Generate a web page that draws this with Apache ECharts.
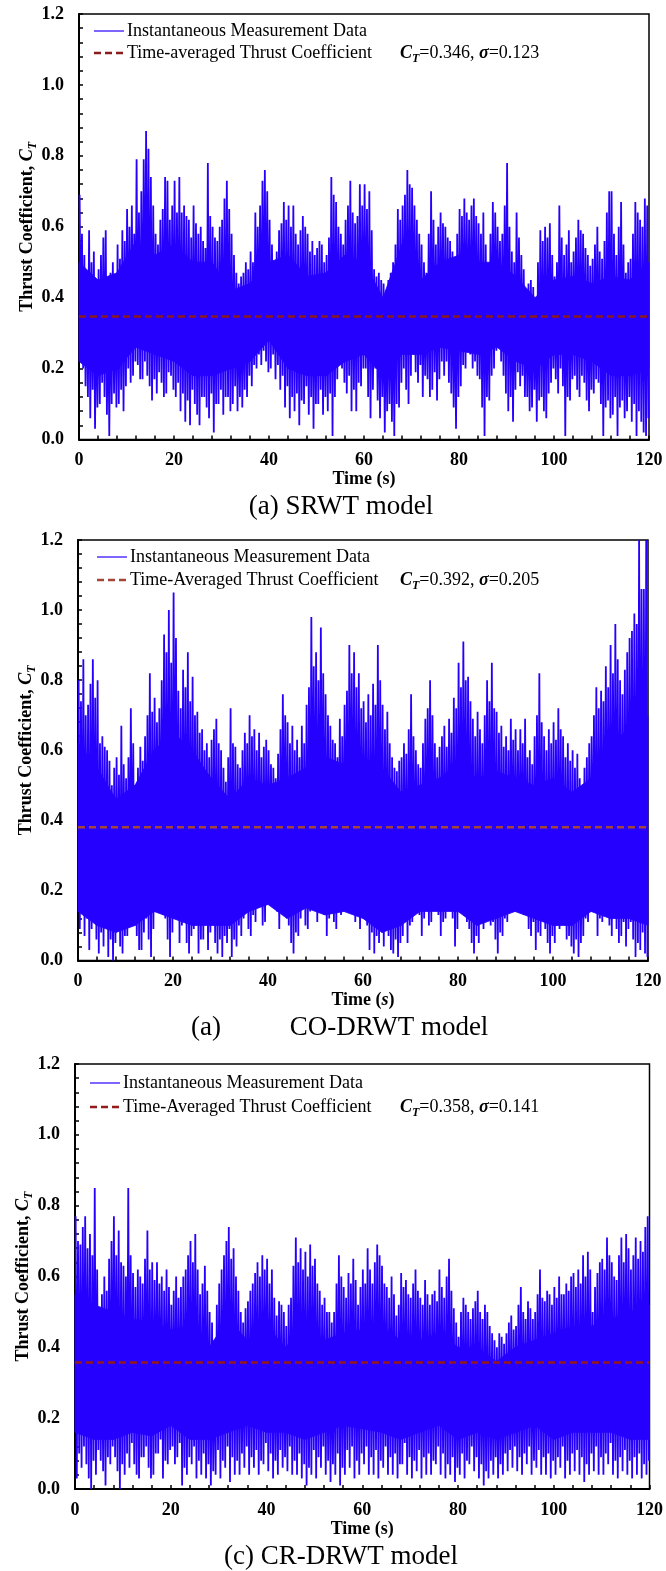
<!DOCTYPE html>
<html><head><meta charset="utf-8">
<script src="https://cdn.jsdelivr.net/npm/echarts/dist/echarts.min.js"></script>
<style>html,body{margin:0;padding:0;background:#fff}#c{width:666px;height:1571px}</style>
</head><body><div id="c"></div><script>
// ---------------- DATA ----------------
// Instantaneous signal, 0..120 s: peak and trough of every 0.5-s window.
const srwtPeak = [0.69,0.58,0.52,0.47,0.59,0.50,0.53,0.44,0.48,0.52,0.57,0.59,0.42,0.47,0.50,0.46,0.55,0.51,0.59,0.56,
0.65,0.60,0.66,0.58,0.79,0.64,0.70,0.79,0.87,0.82,0.74,0.66,0.58,0.55,0.62,0.65,0.74,0.73,0.62,0.66,
0.73,0.64,0.74,0.64,0.66,0.63,0.62,0.57,0.66,0.61,0.58,0.60,0.56,0.54,0.78,0.63,0.60,0.57,0.56,0.60,
0.62,0.68,0.73,0.65,0.58,0.52,0.47,0.44,0.46,0.47,0.50,0.48,0.53,0.50,0.64,0.60,0.66,0.73,0.76,0.70,
0.62,0.55,0.50,0.53,0.59,0.61,0.67,0.62,0.66,0.60,0.66,0.58,0.55,0.59,0.63,0.60,0.58,0.53,0.56,0.52,
0.54,0.56,0.55,0.50,0.52,0.57,0.74,0.69,0.67,0.60,0.58,0.55,0.62,0.66,0.73,0.64,0.61,0.63,0.72,0.66,
0.72,0.65,0.70,0.59,0.48,0.46,0.47,0.45,0.44,0.42,0.45,0.47,0.50,0.55,0.65,0.62,0.66,0.69,0.76,0.72,
0.71,0.66,0.62,0.58,0.55,0.50,0.47,0.58,0.70,0.62,0.55,0.60,0.64,0.61,0.60,0.57,0.56,0.53,0.50,0.58,
0.65,0.63,0.68,0.64,0.62,0.66,0.68,0.63,0.61,0.58,0.64,0.55,0.46,0.58,0.67,0.64,0.60,0.56,0.58,0.66,
0.78,0.60,0.53,0.50,0.64,0.57,0.52,0.48,0.42,0.44,0.45,0.43,0.40,0.50,0.59,0.56,0.60,0.57,0.61,0.52,
0.46,0.50,0.66,0.57,0.52,0.55,0.59,0.50,0.53,0.57,0.62,0.59,0.58,0.54,0.52,0.49,0.51,0.55,0.60,0.53,
0.51,0.56,0.64,0.70,0.70,0.58,0.52,0.60,0.67,0.55,0.47,0.50,0.51,0.58,0.67,0.64,0.62,0.60,0.68,0.66];
const srwtTrough = [0.30,0.20,0.15,0.12,0.06,0.14,0.03,0.09,0.10,0.16,0.12,0.07,0.01,0.10,0.13,0.09,0.10,0.14,0.08,0.15,
0.20,0.16,0.18,0.22,0.21,0.17,0.17,0.22,0.18,0.15,0.11,0.17,0.13,0.19,0.16,0.12,0.13,0.19,0.18,0.14,
0.12,0.16,0.08,0.13,0.05,0.11,0.04,0.14,0.10,0.07,0.04,0.12,0.12,0.09,0.06,0.13,0.02,0.10,0.10,0.14,
0.07,0.12,0.12,0.08,0.10,0.15,0.08,0.12,0.09,0.14,0.12,0.18,0.15,0.21,0.20,0.24,0.21,0.25,0.22,0.19,
0.20,0.24,0.17,0.21,0.14,0.18,0.09,0.15,0.06,0.12,0.08,0.13,0.04,0.11,0.10,0.15,0.07,0.12,0.03,0.10,
0.10,0.14,0.07,0.12,0.08,0.13,0.01,0.12,0.17,0.21,0.20,0.16,0.13,0.18,0.08,0.14,0.08,0.16,0.15,0.20,
0.20,0.12,0.06,0.14,0.20,0.11,0.06,0.12,0.02,0.08,0.10,0.05,0.01,0.10,0.09,0.16,0.20,0.14,0.10,0.18,
0.24,0.19,0.16,0.21,0.12,0.18,0.17,0.12,0.14,0.19,0.11,0.17,0.22,0.18,0.22,0.16,0.13,0.09,0.03,0.12,
0.15,0.21,0.20,0.25,0.24,0.20,0.22,0.18,0.17,0.09,0.01,0.12,0.11,0.18,0.20,0.25,0.28,0.22,0.18,0.13,
0.08,0.12,0.05,0.14,0.19,0.15,0.18,0.12,0.12,0.08,0.09,0.14,0.05,0.11,0.12,0.08,0.06,0.13,0.16,0.20,
0.17,0.13,0.20,0.15,0.01,0.12,0.11,0.17,0.18,0.14,0.12,0.18,0.16,0.11,0.08,0.14,0.13,0.17,0.16,0.10,
0.01,0.09,0.11,0.06,0.07,0.12,0.01,0.09,0.11,0.06,0.08,0.12,0.05,0.10,0.01,0.08,0.05,0.02,0.01,0.06];
// dense core band (every 4 s, t = 0,4,...,120)
const srwtCoreHigh = [0.50,0.45,0.47,0.56,0.52,0.55,0.50,0.50,0.42,0.44,0.50,0.52,0.46,0.47,0.52,0.50,0.40,0.55,0.45,0.50,0.52,0.50,0.50,0.46,0.40,0.45,0.46,0.44,0.46,0.45,0.50];
const srwtCoreLow  = [0.22,0.18,0.20,0.26,0.24,0.22,0.18,0.18,0.20,0.22,0.28,0.20,0.18,0.18,0.22,0.24,0.18,0.24,0.24,0.26,0.25,0.24,0.26,0.22,0.20,0.24,0.24,0.22,0.18,0.18,0.20];
const srwtMean = 0.347;

const coPeak = [0.80,0.74,0.86,0.70,0.73,0.79,0.86,0.75,0.80,0.62,0.64,0.61,0.60,0.57,0.50,0.55,0.58,0.53,0.67,0.56,
0.52,0.58,0.72,0.62,0.49,0.55,0.61,0.57,0.64,0.70,0.82,0.71,0.75,0.68,0.72,0.80,0.93,0.88,1.00,0.85,
1.05,0.92,0.77,0.72,0.83,0.78,0.88,0.74,0.81,0.70,0.71,0.65,0.66,0.60,0.62,0.58,0.63,0.66,0.69,0.62,
0.60,0.55,0.51,0.58,0.72,0.62,0.61,0.56,0.55,0.60,0.65,0.62,0.70,0.64,0.66,0.60,0.65,0.58,0.61,0.63,
0.60,0.56,0.55,0.52,0.59,0.66,0.76,0.70,0.68,0.62,0.67,0.60,0.63,0.58,0.67,0.62,0.73,0.78,0.98,0.84,
0.88,0.80,0.95,0.82,0.76,0.70,0.67,0.63,0.62,0.58,0.69,0.64,0.73,0.77,0.90,0.82,0.88,0.78,0.82,0.72,
0.74,0.68,0.76,0.70,0.79,0.73,0.90,0.80,0.73,0.66,0.71,0.62,0.58,0.55,0.54,0.57,0.58,0.62,0.59,0.66,
0.76,0.64,0.60,0.56,0.55,0.62,0.69,0.72,0.80,0.70,0.62,0.58,0.61,0.64,0.67,0.61,0.69,0.65,0.75,0.72,
0.85,0.78,0.91,0.80,0.81,0.74,0.69,0.64,0.71,0.66,0.62,0.70,0.80,0.74,0.85,0.72,0.71,0.65,0.67,0.61,
0.64,0.60,0.69,0.63,0.66,0.60,0.66,0.62,0.69,0.58,0.60,0.56,0.64,0.70,0.82,0.68,0.64,0.60,0.66,0.62,
0.68,0.63,0.72,0.66,0.64,0.58,0.62,0.57,0.60,0.55,0.59,0.52,0.46,0.55,0.58,0.62,0.64,0.70,0.78,0.72,
0.77,0.74,0.84,0.78,0.90,0.82,0.96,0.86,0.80,0.76,0.83,0.88,0.92,0.94,0.99,0.96,1.20,1.06,1.06,1.20];
const coTrough = [0.09,0.14,0.07,0.12,0.03,0.09,0.12,0.06,0.02,0.08,0.04,0.10,0.01,0.06,0.00,0.05,0.09,0.04,0.02,0.07,
0.07,0.12,0.16,0.10,0.07,0.03,0.03,0.08,0.12,0.06,0.01,0.09,0.23,0.15,0.20,0.13,0.12,0.06,0.01,0.08,
0.26,0.14,0.05,0.10,0.11,0.05,0.02,0.07,0.09,0.13,0.02,0.06,0.06,0.11,0.03,0.08,0.11,0.05,0.02,0.06,
0.01,0.07,0.05,0.09,0.01,0.06,0.04,0.10,0.07,0.12,0.16,0.09,0.07,0.13,0.11,0.15,0.16,0.10,0.11,0.17,
0.26,0.18,0.21,0.14,0.09,0.15,0.22,0.16,0.10,0.05,0.02,0.08,0.07,0.12,0.16,0.10,0.09,0.14,0.26,0.17,
0.11,0.16,0.21,0.13,0.07,0.12,0.16,0.11,0.09,0.14,0.13,0.18,0.21,0.15,0.27,0.18,0.11,0.15,0.09,0.13,
0.16,0.10,0.03,0.08,0.02,0.07,0.05,0.10,0.04,0.09,0.07,0.03,0.02,0.06,0.01,0.05,0.07,0.11,0.05,0.10,
0.11,0.16,0.20,0.13,0.07,0.12,0.16,0.10,0.11,0.15,0.20,0.13,0.07,0.11,0.12,0.17,0.21,0.12,0.04,0.09,
0.20,0.14,0.16,0.11,0.09,0.05,0.02,0.07,0.05,0.11,0.09,0.14,0.16,0.10,0.11,0.06,0.02,0.08,0.07,0.12,
0.11,0.16,0.21,0.14,0.16,0.20,0.19,0.13,0.14,0.09,0.07,0.11,0.03,0.08,0.07,0.12,0.09,0.05,0.02,0.07,
0.05,0.10,0.09,0.13,0.11,0.06,0.07,0.04,0.02,0.06,0.01,0.05,0.07,0.12,0.11,0.16,0.21,0.14,0.07,0.12,
0.11,0.15,0.16,0.10,0.07,0.12,0.09,0.05,0.07,0.11,0.04,0.09,0.11,0.06,0.01,0.05,0.03,0.08,0.02,0.01];
const coCoreHigh = [0.62,0.55,0.46,0.50,0.60,0.65,0.60,0.52,0.46,0.52,0.50,0.52,0.55,0.58,0.56,0.58,0.55,0.48,0.50,0.52,0.56,0.52,0.54,0.52,0.50,0.52,0.48,0.52,0.62,0.66,0.70];
const coCoreLow  = [0.14,0.10,0.08,0.10,0.14,0.12,0.10,0.10,0.10,0.14,0.16,0.12,0.15,0.13,0.14,0.12,0.08,0.10,0.14,0.14,0.14,0.10,0.12,0.14,0.12,0.10,0.10,0.14,0.12,0.12,0.10];
const coMean = 0.38;

const crPeak = [0.77,0.70,0.69,0.74,0.77,0.68,0.72,0.66,0.85,0.62,0.46,0.55,0.60,0.56,0.65,0.70,0.77,0.66,0.73,0.64,
0.63,0.60,0.85,0.66,0.61,0.57,0.62,0.60,0.58,0.65,0.73,0.62,0.64,0.59,0.64,0.58,0.60,0.56,0.62,0.57,
0.52,0.56,0.60,0.54,0.57,0.60,0.62,0.66,0.70,0.64,0.72,0.62,0.55,0.58,0.63,0.56,0.50,0.47,0.42,0.52,
0.58,0.62,0.66,0.70,0.74,0.65,0.68,0.60,0.56,0.50,0.47,0.51,0.53,0.56,0.58,0.61,0.64,0.60,0.66,0.62,
0.65,0.58,0.62,0.54,0.49,0.53,0.52,0.50,0.46,0.52,0.54,0.63,0.71,0.64,0.68,0.62,0.67,0.60,0.69,0.63,
0.65,0.58,0.56,0.52,0.54,0.50,0.50,0.47,0.50,0.58,0.66,0.60,0.57,0.54,0.61,0.58,0.65,0.59,0.52,0.57,
0.62,0.58,0.68,0.62,0.58,0.64,0.69,0.66,0.63,0.58,0.57,0.54,0.60,0.55,0.49,0.52,0.61,0.57,0.59,0.55,
0.54,0.58,0.62,0.56,0.54,0.52,0.59,0.55,0.52,0.55,0.56,0.53,0.62,0.57,0.54,0.60,0.65,0.56,0.51,0.47,
0.43,0.50,0.54,0.52,0.50,0.48,0.51,0.53,0.56,0.50,0.48,0.52,0.50,0.46,0.44,0.42,0.40,0.44,0.43,0.41,
0.44,0.47,0.49,0.45,0.46,0.52,0.57,0.50,0.48,0.53,0.51,0.48,0.50,0.55,0.62,0.54,0.53,0.56,0.55,0.52,
0.57,0.54,0.60,0.55,0.55,0.58,0.56,0.60,0.61,0.57,0.62,0.58,0.66,0.60,0.67,0.62,0.50,0.57,0.61,0.64,
0.65,0.62,0.71,0.66,0.64,0.60,0.59,0.66,0.71,0.64,0.72,0.68,0.62,0.66,0.71,0.65,0.70,0.67,0.74,0.77];
const crTrough = [0.03,0.10,0.06,0.12,0.07,0.03,0.00,0.08,0.04,0.11,0.08,0.05,0.01,0.09,0.07,0.12,0.09,0.05,0.00,0.07,
0.04,0.10,0.06,0.13,0.07,0.04,0.03,0.09,0.09,0.12,0.06,0.03,0.04,0.10,0.10,0.14,0.03,0.08,0.07,0.11,
0.12,0.07,0.09,0.13,0.01,0.06,0.04,0.09,0.07,0.12,0.03,0.08,0.04,0.10,0.03,0.07,0.01,0.05,0.04,0.11,
0.03,0.08,0.06,0.12,0.02,0.09,0.04,0.08,0.04,0.10,0.06,0.12,0.04,0.09,0.06,0.11,0.04,0.08,0.07,0.13,
0.05,0.10,0.03,0.08,0.04,0.11,0.06,0.09,0.05,0.12,0.04,0.08,0.04,0.10,0.03,0.07,0.01,0.06,0.04,0.11,
0.03,0.09,0.06,0.12,0.04,0.08,0.02,0.07,0.04,0.10,0.01,0.06,0.04,0.11,0.06,0.12,0.03,0.08,0.04,0.10,
0.07,0.12,0.04,0.09,0.04,0.11,0.03,0.08,0.06,0.12,0.04,0.09,0.04,0.10,0.03,0.07,0.07,0.13,0.04,0.09,
0.03,0.08,0.05,0.11,0.03,0.09,0.04,0.10,0.04,0.08,0.07,0.12,0.04,0.10,0.03,0.07,0.04,0.09,0.02,0.06,
0.04,0.10,0.03,0.08,0.07,0.12,0.05,0.09,0.03,0.07,0.01,0.05,0.03,0.08,0.04,0.09,0.03,0.07,0.04,0.10,
0.05,0.11,0.06,0.12,0.05,0.09,0.04,0.10,0.07,0.12,0.04,0.08,0.06,0.11,0.04,0.09,0.04,0.10,0.03,0.08,
0.04,0.09,0.06,0.12,0.03,0.08,0.04,0.10,0.05,0.11,0.04,0.09,0.02,0.07,0.04,0.10,0.05,0.12,0.04,0.09,
0.04,0.10,0.07,0.13,0.04,0.08,0.03,0.09,0.05,0.11,0.04,0.08,0.03,0.09,0.04,0.10,0.03,0.07,0.04,0.08];
const crCoreHigh = [0.55,0.52,0.50,0.48,0.47,0.45,0.46,0.40,0.48,0.42,0.46,0.40,0.46,0.42,0.44,0.45,0.46,0.42,0.42,0.44,0.40,0.40,0.36,0.40,0.42,0.44,0.46,0.46,0.48,0.50,0.52];
const crCoreLow  = [0.16,0.14,0.14,0.16,0.15,0.18,0.14,0.14,0.16,0.18,0.16,0.16,0.14,0.16,0.18,0.17,0.16,0.14,0.16,0.18,0.14,0.16,0.14,0.16,0.18,0.14,0.16,0.16,0.16,0.14,0.14];
const crMean = 0.357;

const statTexts = [
  {ct: '0.346', sigma: '0.123'},
  {ct: '0.392', sigma: '0.205'},
  {ct: '0.358', sigma: '0.141'}
];
const captions = ['(a) SRWT model', '(a)', 'CO-DRWT model', '(c) CR-DRWT model'];
const legendNames = ['Instantaneous Measurement Data', 'Time-averaged Thrust Coefficient', 'Time-Averaged Thrust Coefficient'];
const X_MIN = 0, X_MAX = 120, X_STEP = 20, Y_MIN = 0, Y_MAX = 1.2, Y_STEP = 0.2, CORE_STEP = 4, SAMPLE_STEP = 0.5;

// ---------------- CHART ----------------
const FONT = '"Times New Roman", "Liberation Serif", serif';
const BLUE = '#2600ff';

const panels = [
  {hi: srwtPeak, lo: srwtTrough, cHi: srwtCoreHigh, cLo: srwtCoreLow, mean: srwtMean, meanName: legendNames[1], meanColor: '#8b1a1a',
   grid: {left: 79, top: 14, width: 570, height: 425.5}, leg: {x: 94, y1: 31, y2: 53}, xName: 'Time (s)'},
  {hi: coPeak, lo: coTrough, cHi: coCoreHigh, cLo: coCoreLow, mean: coMean, meanName: legendNames[2], meanColor: '#a4453a',
   grid: {left: 78, top: 540, width: 570, height: 420.5}, leg: {x: 97, y1: 557, y2: 580}, xName: 'Time ({it|s})'},
  {hi: crPeak, lo: crTrough, cHi: crCoreHigh, cLo: crCoreLow, mean: crMean, meanName: legendNames[2], meanColor: '#951a1a',
   grid: {left: 75, top: 1064, width: 576.5, height: 425}, leg: {x: 90, y1: 1083, y2: 1107}, xName: 'Time (s)'}
];

const boldTxt = {fontFamily: FONT, fontWeight: 'bold', fontSize: 18, color: '#000'};
const grids = [], xAxes = [], yAxes = [], series = [], graphics = [];

panels.forEach((p, k) => {
  grids.push(Object.assign({show: true, borderColor: '#000', borderWidth: 1.5, backgroundColor: 'transparent'}, p.grid));
  const axisCommon = {
    gridIndex: k, type: 'value',
    axisLine: {show: true, onZero: false, lineStyle: {color: '#000', width: 2}},
    axisTick: {show: true, inside: true, length: 4, lineStyle: {color: '#000', width: 1.5}},
    minorTick: {show: true, splitNumber: 5, length: 4, lineStyle: {color: '#000', width: 1.5}},
    splitLine: {show: false},
    nameMoveOverlap: false
  };
  xAxes.push(Object.assign({}, axisCommon, {
    min: X_MIN, max: X_MAX, interval: X_STEP,
    axisLabel: Object.assign({margin: 12}, boldTxt),
    name: p.xName, nameLocation: 'middle', nameGap: 31,
    nameTextStyle: Object.assign({rich: {it: Object.assign({}, boldTxt, {fontStyle: 'italic'})}}, boldTxt)
  }));
  yAxes.push(Object.assign({}, axisCommon, {
    min: Y_MIN, max: Y_MAX, interval: Y_STEP,
    axisLabel: Object.assign({margin: 15, formatter: v => v.toFixed(1)}, boldTxt),
    name: 'Thrust Coefficient, {ci|C}{sub|T}', nameLocation: 'middle', nameRotate: 90, nameGap: 40,
    nameTextStyle: Object.assign({rich: {
      ci: Object.assign({}, boldTxt, {fontStyle: 'italic', lineHeight: 24}),
      sub: Object.assign({}, boldTxt, {fontStyle: 'italic', fontSize: 12, verticalAlign: 'bottom', lineHeight: 24})
    }}, boldTxt)
  }));

  // dense core band between core-low and core-high, drawn through the axes' coordinates
  const cLo = p.cLo, cHi = p.cHi;
  series.push({type: 'custom', name: 'core-' + k, xAxisIndex: k, yAxisIndex: k, silent: true, z: 1,
    data: cHi.map((v, i) => [i * CORE_STEP, cLo[i], v]),
    encode: {x: 0, y: [1, 2]},
    renderItem: (params, api) => {
      const i = params.dataIndex;
      if (i >= cHi.length - 1) return {type: 'group', children: []};
      const t0 = i * CORE_STEP, t1 = (i + 1) * CORE_STEP;
      const pts = [api.coord([t0, cLo[i]]), api.coord([t1, cLo[i + 1]]), api.coord([t1, cHi[i + 1]]), api.coord([t0, cHi[i]])];
      return {type: 'polygon', shape: {points: pts}, style: {fill: BLUE, stroke: BLUE, lineWidth: 0.8}};
    }
  });

  // instantaneous signal: alternating peak / trough of each 0.5-s window
  const sig = [];
  p.hi.forEach((v, j) => {
    sig.push([j * SAMPLE_STEP + SAMPLE_STEP * 0.25, v]);
    sig.push([j * SAMPLE_STEP + SAMPLE_STEP * 0.75, p.lo[j]]);
  });
  series.push({type: 'line', name: legendNames[0], xAxisIndex: k, yAxisIndex: k, data: sig,
    symbol: 'none', showSymbol: false, lineStyle: {color: BLUE, width: 1.8}, itemStyle: {color: BLUE}, z: 2});

  // time-averaged line
  series.push({type: 'line', name: p.meanName, xAxisIndex: k, yAxisIndex: k, data: [[X_MIN, p.mean], [X_MAX, p.mean]],
    symbol: 'none', showSymbol: false, lineStyle: {color: p.meanColor, width: 2.5, type: [7, 4]}, itemStyle: {color: p.meanColor}, z: 3});

  // legend (drawn as graphics)
  const L = p.leg;
  graphics.push({type: 'line', z: 10, shape: {x1: L.x, y1: L.y1, x2: L.x + 30, y2: L.y1}, style: {stroke: BLUE, lineWidth: 1.2}});
  graphics.push({type: 'line', z: 10, shape: {x1: L.x, y1: L.y2, x2: L.x + 30, y2: L.y2}, style: {stroke: p.meanColor, lineWidth: 2.5, lineDash: [7, 4]}});
  graphics.push({type: 'text', z: 10, x: L.x + 33, y: L.y1, style: {text: legendNames[0], font: '18px ' + FONT, fill: '#000', verticalAlign: 'middle', textVerticalAlign: 'middle'}});
  graphics.push({type: 'text', z: 10, x: L.x + 33, y: L.y2, style: {text: p.meanName, font: '18px ' + FONT, fill: '#000', verticalAlign: 'middle', textVerticalAlign: 'middle'}});

  const st = statTexts[k];
  graphics.push({type: 'text', x: 400, y: L.y2, z: 10, style: {
    text: '{b|C}{s|T}{r|=' + st.ct + ', }{b|σ}{r|=' + st.sigma + '}',
    verticalAlign: 'middle', textVerticalAlign: 'middle',
    rich: {
      b: {fontFamily: FONT, fontSize: 18, fontWeight: 'bold', fontStyle: 'italic', fill: '#000', lineHeight: 24},
      s: {fontFamily: FONT, fontSize: 12, fontWeight: 'bold', fontStyle: 'italic', fill: '#000', verticalAlign: 'bottom', lineHeight: 24},
      r: {fontFamily: FONT, fontSize: 18, fill: '#000', lineHeight: 24}
    }
  }});
});

function caption(text, x, y) {
  return {type: 'text', x: x, y: y, z: 10, style: {text: text, font: '27px ' + FONT, fill: '#000',
    align: 'center', textAlign: 'center', verticalAlign: 'middle', textVerticalAlign: 'middle'}};
}
graphics.push(caption(captions[0], 341, 507));
graphics.push(caption(captions[1], 206, 1028));
graphics.push(caption(captions[2], 389, 1028));
graphics.push(caption(captions[3], 341, 1557));

const chart = echarts.init(document.getElementById('c'), null, {renderer: 'canvas'});
chart.setOption({
  animation: false,
  backgroundColor: '#fff',
  grid: grids, xAxis: xAxes, yAxis: yAxes, series: series, graphic: graphics
});
</script></body></html>
